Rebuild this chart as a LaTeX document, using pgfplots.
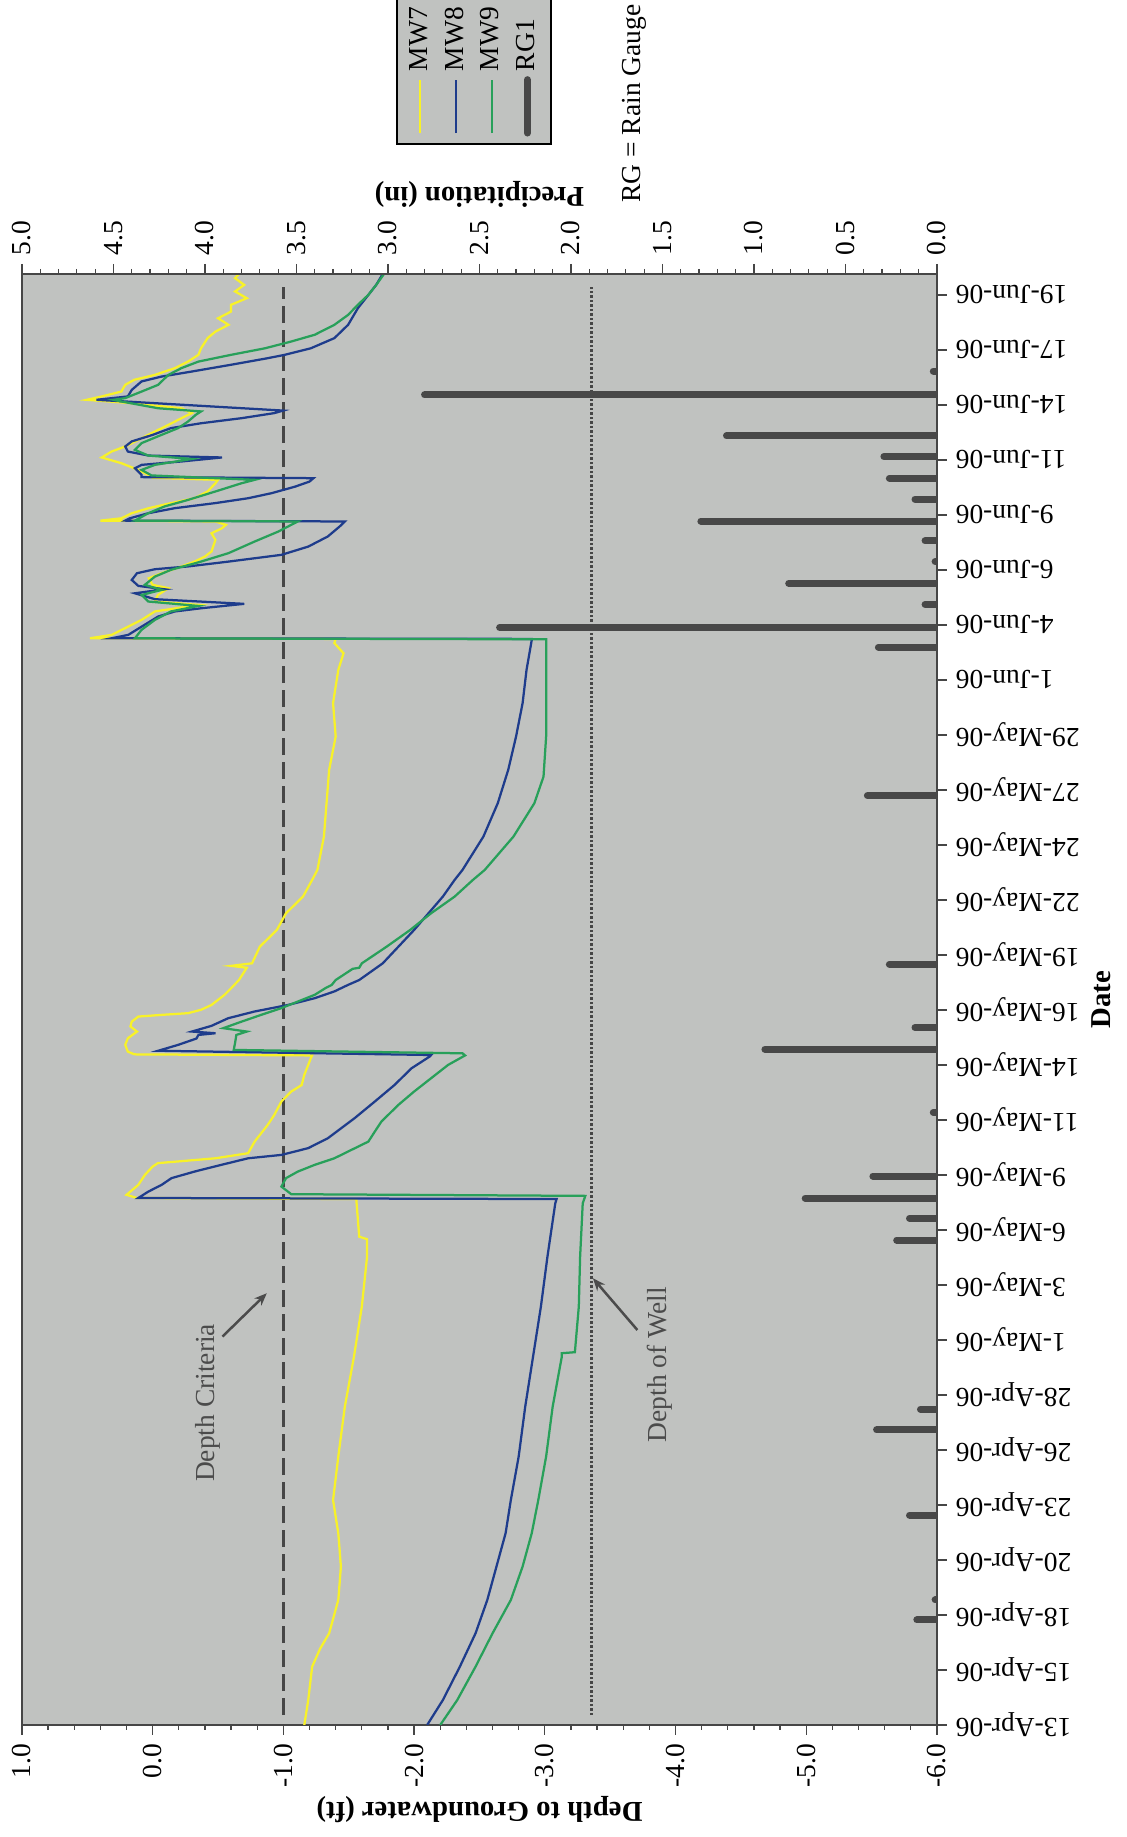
\documentclass[border=0pt]{standalone}
\usepackage{pgfplots}
\pgfplotsset{compat=1.18}
\usetikzlibrary{arrows.meta}
\usepackage{fontspec}
\setmainfont{Liberation Serif}
\definecolor{plotgray}{RGB}{192,194,192}
\definecolor{mwyellow}{RGB}{248,242,40}
\definecolor{mwblue}{RGB}{30,60,140}
\definecolor{mwgreen}{RGB}{40,160,90}
\definecolor{raingray}{RGB}{72,72,72}
\definecolor{axisgray}{RGB}{70,70,70}
\definecolor{notegray}{RGB}{75,75,75}

\pgfplotsset{
  base/.style={
    scale only axis, width=580.4pt, height=366pt,
    at={(0pt,0pt)}, anchor=south west,
    xmin=0, xmax=68.7,
    tick align=outside, major tick length=4pt, minor tick length=2pt,
    tick style={axisgray, line width=0.5pt},
    axis line style={axisgray, line width=0.8pt},
    tick label style={font=\fontsize{11}{12.5}\selectfont},
    label style={font=\fontsize{11.5}{13}\selectfont\bfseries},
  }
}

\begin{document}
\begin{tikzpicture}[rotate=90, transform shape]
\begin{axis}[base,
  axis background/.style={fill=plotgray},
  xtick pos=bottom, ytick pos=left,
  xtick={0,2.604,5.208,7.812,10.417,13.021,15.625,18.229,20.833,23.438,26.042,28.646,31.25,33.854,36.458,39.063,41.667,44.271,46.875,49.479,52.083,54.688,57.292,59.896,62.5,65.104,67.708},
  xticklabels={13-Apr-06,15-Apr-06,18-Apr-06,20-Apr-06,23-Apr-06,26-Apr-06,28-Apr-06,1-May-06,3-May-06,6-May-06,9-May-06,11-May-06,14-May-06,16-May-06,19-May-06,22-May-06,24-May-06,27-May-06,29-May-06,1-Jun-06,4-Jun-06,6-Jun-06,9-Jun-06,11-Jun-06,14-Jun-06,17-Jun-06,19-Jun-06},
  minor x tick num=5,
  xticklabel style={rotate=90, anchor=east},
  ymin=-6, ymax=1,
  ytick={-6,-5,-4,-3,-2,-1,0,1},
  yticklabels={-6.0,-5.0,-4.0,-3.0,-2.0,-1.0,0.0,1.0},
  minor y tick num=4,
  xlabel={Date},
  ylabel={Depth to Groundwater (ft)},
  xlabel style={at={(axis description cs:0.5,-0.179)}, anchor=center},
  ylabel style={at={(axis description cs:-0.0586,0.5)}, anchor=center},
]
% Depth criteria and depth of well
\addplot[axisgray, line width=1.1pt, dash pattern=on 7pt off 2.6pt] coordinates {(0.47,-1) (68.1,-1)};
\addplot[axisgray, line width=1.1pt, dash pattern=on 0.9pt off 0.9pt] coordinates {(0.47,-3.355) (68.1,-3.355)};

% MW7
\addplot[mwyellow, line width=0.9pt] coordinates {
(0,-1.16) (1.18,-1.19) (2.76,-1.22) (3.6,-1.28) (4.34,-1.35) (5.92,-1.42) (7.5,-1.44) (9.08,-1.42) (10.65,-1.38) (12.71,-1.42) (15.07,-1.47) (17.44,-1.54) (19.81,-1.60) (22.17,-1.64) (23.0,-1.64) (23.12,-1.58) (24.7,-1.56) (24.9,-1.56)
(24.95,0.12) (25.10,0.20) (25.57,0.11) (26.04,0.06) (26.44,0.0) (26.60,-0.04) (26.83,-0.48) (27.07,-0.73) (27.62,-0.78) (28.41,-0.88) (28.88,-0.93) (29.52,-0.985) (29.99,-1.06) (30.30,-1.14) (30.78,-1.16) (31.25,-1.19) (31.57,-1.21) (31.70,-1.22)
(31.75,0.14) (31.88,0.19) (32.20,0.21) (32.51,0.19) (32.83,0.12) (33.07,0.17) (33.30,0.16) (33.54,0.11) (33.62,-0.07) (33.70,-0.27) (33.86,-0.37) (34.09,-0.45) (34.33,-0.50) (34.57,-0.55) (34.88,-0.60) (35.27,-0.66) (35.85,-0.72) (35.94,-0.60) (36.06,-0.76) (36.85,-0.82) (37.64,-0.95) (38.43,-1.02) (39.22,-1.15) (40.01,-1.22) (40.48,-1.26) (42.06,-1.31) (43.64,-1.33) (45.22,-1.35) (46.80,-1.40) (48.38,-1.38) (49.95,-1.42) (50.74,-1.46) (51.22,-1.39) (51.42,-1.40)
(51.45,0.48) (51.61,0.315) (51.93,0.21) (52.32,0.085) (52.72,-0.017) (53.03,-0.35) (53.19,-0.017) (53.50,-0.04) (53.82,-0.12) (53.98,0.0) (54.29,0.03) (54.53,-0.068) (54.85,-0.22) (55.08,-0.32) (55.32,-0.40) (55.56,-0.45) (56.11,-0.48) (56.42,-0.45) (56.66,-0.53) (56.82,-0.56) (56.98,-0.48)
(57.02,0.40) (57.13,0.24) (57.37,0.16) (57.61,0.03) (57.85,-0.14) (58.08,-0.32) (58.40,-0.42) (58.79,-0.48) (58.95,-0.50)
(59.05,0.0) (59.11,0.01) (59.42,0.11) (59.74,0.24) (60.01,0.39) (60.29,0.315) (60.53,0.21) (60.92,0.085) (61.24,-0.017) (61.55,-0.12) (61.87,-0.22) (62.11,-0.30) (62.34,-0.22) (62.58,0.16) (62.74,0.505) (62.90,0.39) (63.13,0.24) (63.45,0.21) (63.69,0.14) (63.92,-0.017) (64.24,-0.17) (64.55,-0.27) (64.87,-0.35) (65.18,-0.37) (65.66,-0.42) (65.97,-0.48) (66.29,-0.58) (66.60,-0.50) (66.92,-0.60) (67.24,-0.60) (67.55,-0.72) (67.87,-0.63) (68.18,-0.70) (68.50,-0.63) (68.7,-0.66)
};

% MW8
\addplot[mwblue, line width=0.9pt] coordinates {
(0,-2.10) (1.18,-2.22) (2.76,-2.35) (4.34,-2.47) (5.92,-2.56) (7.5,-2.63) (9.08,-2.70) (10.65,-2.74) (12.71,-2.80) (15.07,-2.85) (17.44,-2.91) (19.81,-2.97) (22.17,-3.02) (24.7,-3.08) (24.9,-3.09)
(24.95,0.11) (25.25,0.034) (25.57,-0.068) (25.89,-0.144) (26.2,-0.32) (26.52,-0.526) (26.83,-0.73) (26.99,-0.985) (27.31,-1.19) (27.78,-1.34) (28.73,-1.545) (29.52,-1.70) (30.30,-1.85) (31.09,-1.98) (31.65,-2.12) (31.72,-2.13)
(31.92,-0.042) (32.2,-0.195) (32.5,-0.335) (32.67,-0.35) (32.75,-0.48) (32.83,-0.30) (33.1,-0.45) (33.46,-0.577) (33.78,-0.78) (34.09,-1.036) (34.41,-1.24) (34.73,-1.39) (35.04,-1.495) (35.27,-1.58) (36.06,-1.76) (36.85,-1.88) (37.64,-2.0) (38.43,-2.11) (39.22,-2.22) (40.01,-2.31) (40.48,-2.37) (42.06,-2.53) (43.64,-2.64) (45.22,-2.72) (46.80,-2.78) (48.38,-2.83) (49.95,-2.86) (51.37,-2.90) (51.42,-2.90)
(51.45,0.315) (51.61,0.187) (52.0,0.085) (52.48,-0.042) (52.72,-0.17) (52.87,-0.37) (53.08,-0.70) (53.30,-0.017) (53.58,0.136) (53.77,-0.09) (53.93,0.11) (54.21,0.16) (54.53,0.12) (54.72,-0.017) (54.85,-0.27) (55.08,-0.58) (55.40,-0.985) (55.79,-1.19) (56.27,-1.34) (56.74,-1.43) (56.98,-1.47)
(57.02,0.21) (57.13,0.175) (57.37,0.034) (57.61,-0.17) (57.85,-0.48) (58.08,-0.73) (58.32,-0.91) (58.63,-1.09) (58.87,-1.20) (59.03,-1.23)
(59.08,0.085) (59.19,0.085) (59.50,0.136) (59.66,0.085) (59.82,-0.22) (60.01,-0.53) (60.10,0.03) (60.29,0.19) (60.53,0.21) (60.77,0.16) (61.08,0.0) (61.40,-0.14) (61.63,-0.37) (61.87,-0.68) (62.11,-0.93) (62.23,-0.998)
(62.74,0.43) (62.90,0.19) (63.21,0.16) (63.61,0.085) (63.84,-0.068) (64.08,-0.30) (64.40,-0.60) (64.71,-0.88) (64.87,-1.01) (65.18,-1.21) (65.66,-1.39) (66.29,-1.495) (67.08,-1.57) (67.55,-1.63) (68.18,-1.71) (68.7,-1.76)
};

% MW9
\addplot[mwgreen, line width=0.9pt] coordinates {
(0,-2.20) (1.18,-2.33) (2.76,-2.47) (4.34,-2.60) (5.92,-2.74) (7.5,-2.83) (9.08,-2.90) (10.65,-2.95) (12.71,-3.01) (15.07,-3.06) (17.44,-3.13) (17.6,-3.13) (17.65,-3.23) (19.81,-3.26) (22.17,-3.27) (24.7,-3.29) (25.05,-3.31)
(25.13,-1.06) (25.49,-0.985) (25.89,-1.02) (26.20,-1.11) (26.52,-1.24) (26.83,-1.39) (27.15,-1.495) (27.62,-1.65) (28.10,-1.70) (28.57,-1.75) (29.36,-1.88) (29.99,-2.00) (30.62,-2.13) (31.25,-2.26) (31.70,-2.39) (31.80,-2.37)
(31.96,-0.62) (32.28,-0.63) (32.67,-0.64) (32.83,-0.72) (32.99,-0.54) (33.30,-0.68) (33.62,-0.83) (33.94,-0.985) (34.25,-1.11) (34.57,-1.24) (34.88,-1.32) (35.04,-1.37) (35.27,-1.40) (35.80,-1.53) (35.85,-1.58) (36.06,-1.60) (36.85,-1.79) (37.64,-1.97) (38.43,-2.13) (39.22,-2.31) (40.01,-2.45) (40.48,-2.54) (42.06,-2.76) (43.64,-2.92) (44.9,-2.99) (46.8,-3.01) (48.38,-3.01) (49.95,-3.01) (51.40,-3.01)
(51.45,0.136) (51.85,0.085) (52.32,-0.017) (52.72,-0.14) (52.98,-0.35) (53.19,0.034) (53.50,0.085) (53.74,-0.068) (53.98,0.06) (54.37,-0.017) (54.69,-0.14) (55.08,-0.37) (55.48,-0.58) (56.03,-0.78) (56.50,-0.96) (56.98,-1.11)
(57.02,0.136) (57.37,0.034) (57.69,-0.09) (58.0,-0.27) (58.40,-0.48) (58.79,-0.68) (58.95,-0.78)
(59.16,0.009) (59.42,0.085) (59.66,-0.017) (59.94,-0.30) (60.10,0.034) (60.37,0.136) (60.69,0.085) (61.08,-0.068) (61.40,-0.195) (61.71,-0.27) (62.03,-0.33) (62.19,-0.37) (62.34,-0.042) (62.66,0.24) (62.74,0.30) (62.82,0.21) (63.13,0.085) (63.45,-0.042) (63.92,-0.12) (64.24,-0.22) (64.55,-0.35) (64.87,-0.60) (65.18,-0.86) (65.50,-1.06) (65.82,-1.24) (66.29,-1.39) (66.76,-1.495) (67.24,-1.57) (67.71,-1.65) (68.18,-1.71) (68.7,-1.77)
};

% annotations
\node[font=\fontsize{11}{13}\selectfont, text=notegray, anchor=center] at (axis cs:15.25,-0.42) {Depth Criteria};
\draw[notegray, line width=1pt, -{Stealth[length=5pt,width=4pt]}] (axis cs:18.39,-0.534) -- (axis cs:20.44,-0.873);
\node[font=\fontsize{11}{13}\selectfont, text=notegray, anchor=center] at (axis cs:17.05,-3.878) {Depth of Well};
\draw[notegray, line width=1pt, -{Stealth[length=5pt,width=4pt]}] (axis cs:18.7,-3.708) -- (axis cs:21.15,-3.368);
\end{axis}

\begin{axis}[base,
  axis x line=none,
  axis y line*=right,
  ymin=0, ymax=5,
  ytick={0,0.5,1,1.5,2,2.5,3,3.5,4,4.5,5},
  yticklabels={0.0,0.5,1.0,1.5,2.0,2.5,3.0,3.5,4.0,4.5,5.0},
  minor y tick num=4,
  ylabel={Precipitation (in)},
  ylabel style={at={(axis description cs:1.0545,0.5)}, anchor=center},
  legend style={at={(axis description cs:1.089,0.591)}, anchor=north west,
    fill=plotgray, draw=black, line width=0.6pt,
    font=\fontsize{11}{13}\selectfont, row sep=1.5pt,
    inner xsep=3pt, inner ysep=3pt},
  legend cell align=left,
  legend image code/.code={\draw[#1] (0cm,0cm) -- (0.75cm,0cm);},
]
\addlegendimage{mwyellow, line width=0.9pt}
\addlegendentry{MW7}
\addlegendimage{mwblue, line width=0.9pt}
\addlegendentry{MW8}
\addlegendimage{mwgreen, line width=0.9pt}
\addlegendentry{MW9}
\addlegendimage{raingray, line width=2.8pt, line cap=round}
\addlegendentry{RG1}

\addplot[ycomb, raingray, line width=2.8pt, line cap=round, forget plot] coordinates {
(4.97,0.11) (5.92,0.01) (9.94,0.15) (13.97,0.33) (14.95,0.09) (22.96,0.22) (23.99,0.15) (24.94,0.72) (25.99,0.35) (29.0,0.02) (31.99,0.94) (33.02,0.12) (36.02,0.26) (44.0,0.38) (51.03,0.32) (51.96,2.39) (53.06,0.065) (54.05,0.81) (55.08,0.01) (56.06,0.065) (57.0,1.29) (58.04,0.12) (59.03,0.26) (60.05,0.29) (61.03,1.15) (62.97,2.80) (64.1,0.02)
};
\end{axis}
\node[font=\fontsize{11}{13}\selectfont, anchor=center] at (648.6pt,121.1pt) {RG = Rain Gauge};
\pgfresetboundingbox
\path[use as bounding box] (-44.81pt,-75.62pt) rectangle (689.98pt,374.78pt);
\end{tikzpicture}
\end{document}
